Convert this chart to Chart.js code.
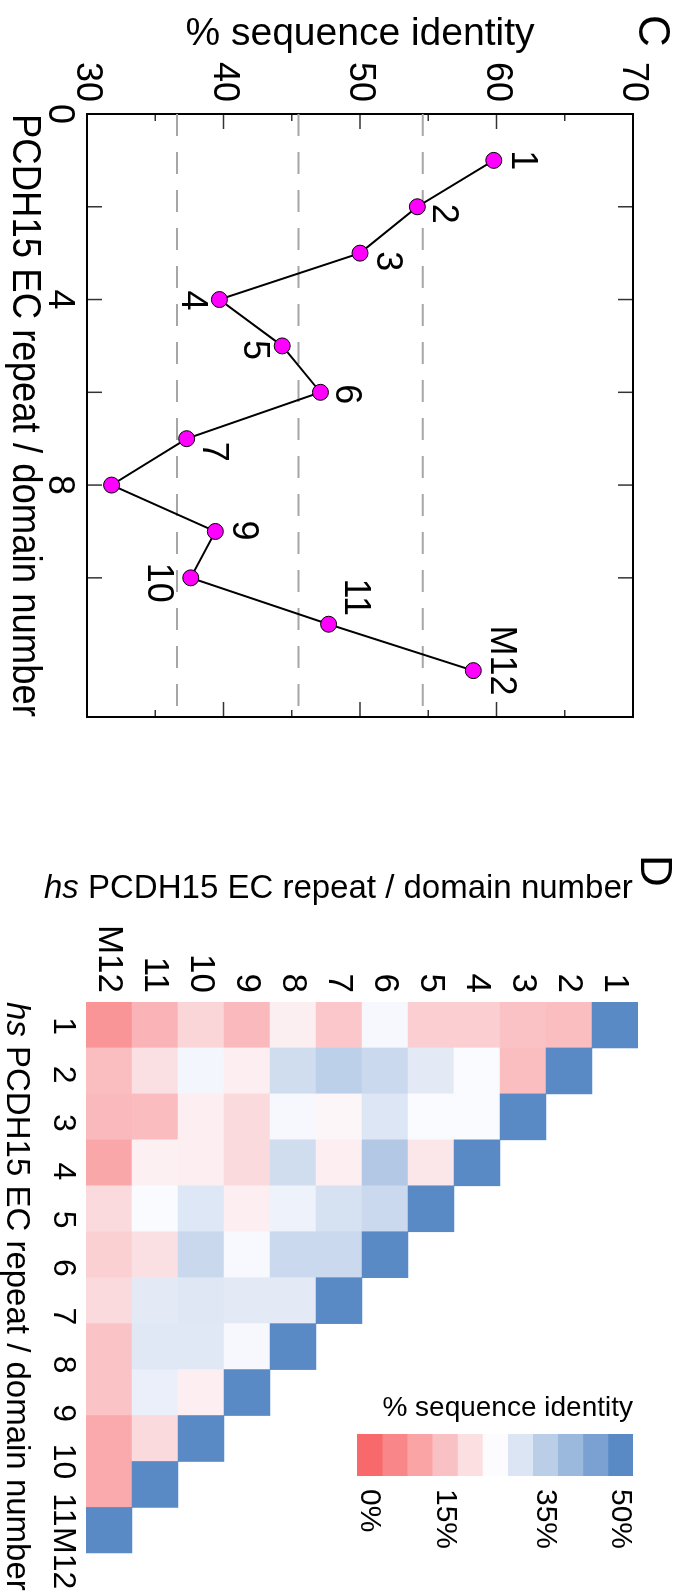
<!DOCTYPE html>
<html>
<head>
<meta charset="utf-8">
<script src="https://cdn.jsdelivr.net/npm/chart.js@4.4.1/dist/chart.umd.min.js"></script>
<style>
html, body { margin: 0; padding: 0; background: #fff; width: 684px; height: 1593px; overflow: hidden; }
/* the figure is laid out landscape and turned a quarter clockwise */
#fig { position: absolute; left: 0; top: 0; width: 1593px; height: 684px; transform-origin: 0 0; transform: translateX(684px) rotate(90deg); }
#fig canvas { position: absolute; top: 0; }
</style>
</head>
<body>
<div id="fig">
  <canvas id="chartC" width="760" height="684" style="left:0"></canvas>
  <canvas id="chartD" width="773" height="684" style="left:820px"></canvas>
  <canvas id="chartBar" width="213" height="684" style="left:1380px"></canvas>
</div>
<script>
// --- data ---
const domains = ['1', '2', '3', '4', '5', '6', '7', '8', '9', '10', '11', 'M12'];
const domainPos = [1, 2, 3, 4, 5, 6, 7, 8, 9, 10, 11, 12];
const identity = [59.8, 54.2, 50.0, 39.7, 44.3, 47.1, 37.3, 31.8, 39.4, 37.6, 47.7, 58.3];
const pointLabels = ['1', '2', '3', '4', '5', '6', '7', '', '9', '10', '11', 'M12'];
const refLines = [36.6, 45.5, 54.6];
const xLabelTicks = [0, 4, 8, 12];

// pairwise identity, row j holds domain j against domains 1..j
const pairIdentity = [
  [100],
  [14.3, 100],
  [15.1, 14.5, 100],
  [17.3, 25.3, 25.3, 100],
  [17.3, 28.9, 25.3, 21.3, 100],
  [25.8, 32.6, 29.9, 36.4, 32.6, 100],
  [16.0, 34.7, 24.0, 22.6, 30.9, 32.6, 100],
  [22.8, 31.9, 25.9, 31.9, 27.2, 32.6, 28.9, 100],
  [13.8, 22.6, 19.2, 19.2, 22.6, 25.6, 28.9, 25.8, 100],
  [18.5, 26.4, 22.6, 22.6, 29.6, 32.9, 29.5, 29.3, 22.6, 100],
  [12.8, 20.2, 14.1, 23.0, 25.3, 20.2, 28.9, 29.3, 27.8, 19.2, 100],
  [7.5, 14.3, 13.8, 10.5, 19.2, 17.5, 19.2, 15.3, 15.3, 10.9, 10.9, 100]
];
const barSteps = [0, 5, 10, 15, 20, 25, 30, 35, 40, 45, 50];
const barTicks = [0, 15, 35, 50];

// --- styles ---
const FONT = "'Liberation Sans', Arial, sans-serif";
Chart.defaults.font.family = FONT;
Chart.defaults.color = '#000';
const labelOffsets = [[0, -28], [7, -26], [8, -27], [1, 27], [4, 28], [2, -26], [13, -26], [0, 0], [-1, -28], [5, 33], [-27, -26], [-10, -28]];
const scaleColors = [[248, 105, 107], [252, 252, 255], [90, 138, 198]];

function identityColor(v) {
  const t = Math.max(0, Math.min(50, v)) / 25;
  const k = t < 1 ? 0 : 1;
  const f = t - k;
  const a = scaleColors[k], b = scaleColors[k + 1];
  const c = a.map((ch, n) => Math.round(ch + (b[n] - ch) * f));
  return `rgb(${c[0]},${c[1]},${c[2]})`;
}

function line(ctx, x1, y1, x2, y2) {
  ctx.beginPath(); ctx.moveTo(x1, y1); ctx.lineTo(x2, y2); ctx.stroke();
}

function drawMixed(ctx, x, y, rot, parts) {
  ctx.save();
  ctx.translate(x, y);
  ctx.rotate(rot);
  ctx.fillStyle = '#000';
  ctx.textBaseline = 'alphabetic';
  ctx.textAlign = 'left';
  let cx = 0;
  parts.forEach(p => {
    ctx.font = p.font;
    ctx.fillText(p.text, cx, 0);
    cx += ctx.measureText(p.text).width;
  });
  ctx.restore();
}

// --- panel C ---
const frameC = {
  id: 'frameC',
  beforeDatasetsDraw(chart) {
    const { ctx, chartArea: a, scales: { x, y } } = chart;
    ctx.save();
    ctx.strokeStyle = '#333';
    ctx.lineWidth = 1.5;
    x.ticks.forEach(t => {
      const px = x.getPixelForValue(t.value);
      line(ctx, px, a.bottom, px, a.bottom - 15);
      line(ctx, px, a.top, px, a.top + 15);
    });
    y.ticks.forEach(t => {
      const len = t.value % 10 === 0 ? 15 : 7;
      const py = y.getPixelForValue(t.value);
      line(ctx, a.left, py, a.left + len, py);
      line(ctx, a.right, py, a.right - len, py);
    });
    ctx.strokeStyle = '#000';
    ctx.lineWidth = 2;
    ctx.strokeRect(a.left, a.top, a.width, a.height);
    ctx.restore();
  },
  afterDatasetsDraw(chart) {
    const ctx = chart.ctx;
    const meta = chart.getDatasetMeta(0);
    ctx.save();
    ctx.font = '36px ' + FONT;
    ctx.fillStyle = '#000';
    ctx.textAlign = 'center';
    ctx.textBaseline = 'middle';
    meta.data.forEach((pt, i) => {
      if (!pointLabels[i]) return;
      ctx.fillText(pointLabels[i], pt.x + labelOffsets[i][0], pt.y + labelOffsets[i][1]);
    });
    ctx.font = '44px ' + FONT;
    ctx.textAlign = 'left';
    ctx.textBaseline = 'alphabetic';
    ctx.fillText('C', 15, 45);
    ctx.restore();
  }
};

const datasetsC = [{
  data: domainPos.map((x, i) => ({ x: x, y: identity[i] })),
  showLine: true,
  borderColor: '#000',
  borderWidth: 2,
  pointRadius: 8,
  pointBackgroundColor: '#FF00FF',
  pointBorderColor: '#000',
  pointBorderWidth: 1
}].concat(refLines.map(v => ({
  data: [{ x: 0, y: v }, { x: 13, y: v }],
  showLine: true,
  borderColor: '#A6A6A6',
  borderWidth: 2,
  borderDash: [22, 16],
  pointRadius: 0
})));

new Chart(document.getElementById('chartC'), {
  type: 'scatter',
  data: { datasets: datasetsC },
  options: {
    responsive: false,
    animation: false,
    layout: { padding: { top: 51, right: 43, left: 0, bottom: 0 }, autoPadding: false },
    plugins: { legend: { display: false }, tooltip: { enabled: false } },
    scales: {
      x: {
        type: 'linear', min: 0, max: 13,
        afterFit: s => { s.height = 87; },
        grid: { display: false, drawTicks: false },
        border: { display: false },
        ticks: {
          stepSize: 2, autoSkip: false, maxRotation: 0, padding: 6,
          font: { size: 36 },
          callback: v => xLabelTicks.includes(v) ? (v === 0 ? '0' : domains[v - 1]) : ''
        },
        title: { display: true, text: 'PCDH15 EC repeat / domain number', font: { size: 40 }, padding: { top: 0, bottom: 0 } }
      },
      y: {
        min: 30, max: 70,
        afterFit: s => { s.width = 114; },
        grid: { display: false, drawTicks: false },
        border: { display: false },
        ticks: {
          stepSize: 5, autoSkip: false, padding: 12,
          font: { size: 36 },
          callback: v => v % 10 === 0 ? String(v) : ''
        },
        title: { display: true, text: '% sequence identity', font: { size: 39 }, padding: { top: 11, bottom: 0 } }
      }
    }
  },
  plugins: [frameC]
});

// --- panel D heatmap ---
const heatDatasets = domains.map((d, j) => ({
  data: domains.map((c, i) => i <= j ? [j + 0.5, j + 1.5] : null),
  backgroundColor: domains.map((c, i) => i <= j ? identityColor(pairIdentity[j][i]) : 'rgba(0,0,0,0)'),
  grouped: false,
  barPercentage: 1,
  categoryPercentage: 1,
  borderWidth: 0
}));

const textD = {
  id: 'textD',
  afterDraw(chart) {
    const { ctx, chartArea: a } = chart;
    const parts = [
      { text: 'hs', font: 'italic 33px ' + FONT },
      { text: ' PCDH15 EC repeat / domain number', font: '33px ' + FONT }
    ];
    drawMixed(ctx, a.left, 677, 0, parts);
    drawMixed(ctx, 78, 640, -Math.PI / 2, parts);
    ctx.save();
    ctx.font = '44px ' + FONT;
    ctx.fillStyle = '#000';
    ctx.fillText('D', 35, 43);
    ctx.restore();
  }
};

new Chart(document.getElementById('chartD'), {
  type: 'bar',
  data: { labels: domains, datasets: heatDatasets },
  options: {
    responsive: false,
    animation: false,
    layout: { padding: { top: 46, right: 39, left: 0, bottom: 0 }, autoPadding: false },
    plugins: { legend: { display: false }, tooltip: { enabled: false } },
    scales: {
      x: { display: false },
      // label axis: the typed labels in the figure sit slightly wider apart than the cells
      xLab: {
        type: 'linear', position: 'bottom', min: 0.5, max: 11.9, beginAtZero: false, offset: false,
        afterFit: s => { s.height = 86; },
        afterBuildTicks: s => { s.ticks = domainPos.map(v => ({ value: v })); },
        grid: { display: false, drawTicks: false, offset: false },
        border: { display: false },
        ticks: { autoSkip: false, maxRotation: 0, padding: 4, font: { size: 32 }, callback: v => domains[v - 1] }
      },
      y: {
        min: 0.5, max: 12.5, reverse: true,
        afterFit: s => { s.width = 182; },
        afterBuildTicks: s => { s.ticks = domainPos.map(v => ({ value: v })); },
        grid: { display: false, drawTicks: false },
        border: { display: false },
        ticks: { autoSkip: false, padding: 9, font: { size: 35 }, callback: v => domains[v - 1] }
      }
    }
  },
  plugins: [textD]
});

// --- colour bar ---
new Chart(document.getElementById('chartBar'), {
  type: 'bar',
  data: {
    labels: [''],
    datasets: barSteps.map(v => ({
      data: [5],
      backgroundColor: identityColor(v),
      borderWidth: 0,
      barPercentage: 1,
      categoryPercentage: 1
    }))
  },
  options: {
    responsive: false,
    animation: false,
    layout: { padding: { top: 51, bottom: 357, left: 0, right: 0 }, autoPadding: false },
    plugins: { legend: { display: false }, tooltip: { enabled: false } },
    scales: {
      x: { display: false, stacked: true },
      y: {
        position: 'right', stacked: true, min: 0, max: 55,
        afterFit: s => { s.width = 117; },
        afterBuildTicks: s => { s.ticks = barTicks.map(p => ({ value: p + 2.5 })); },
        grid: { display: false, drawTicks: false },
        border: { display: false },
        ticks: { padding: 13, font: { size: 30 }, callback: v => (v - 2.5) + '%' }
      },
      y2: {
        position: 'left',
        afterFit: s => { s.width = 54; },
        grid: { display: false, drawTicks: false },
        border: { display: false },
        ticks: { display: false },
        title: { display: true, text: '% sequence identity', align: 'end', font: { size: 28 }, padding: { top: 11, bottom: 0 } }
      }
    }
  }
});
</script>
</body>
</html>
